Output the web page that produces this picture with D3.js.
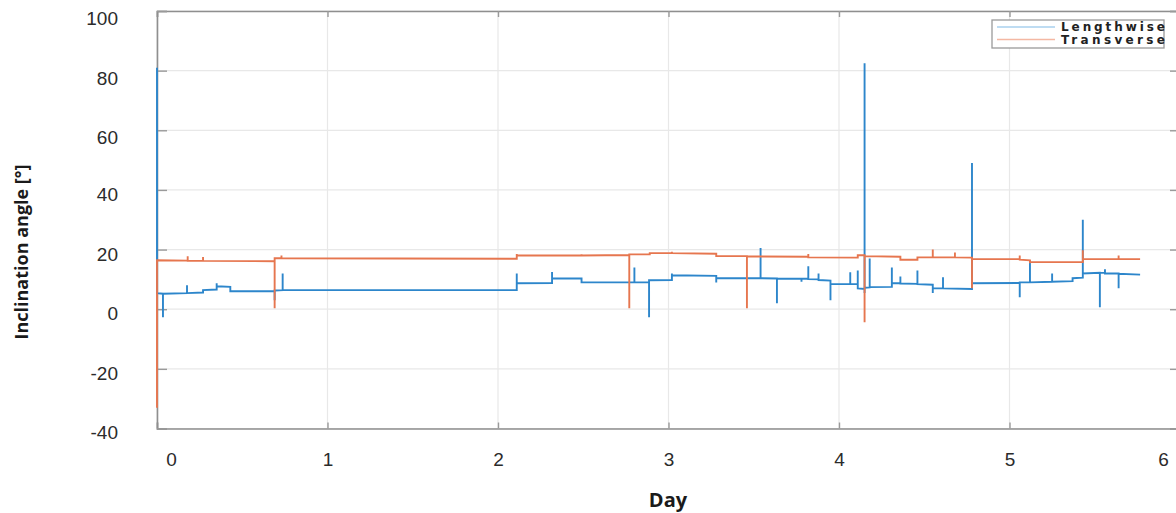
<!DOCTYPE html>
<html>
<head>
<meta charset="utf-8">
<script src="https://cdn.jsdelivr.net/npm/d3@7"></script>
<style>
  body { margin: 0; background: #fff; }
  svg { font-family: "Open Sans", sans-serif; }
</style>
</head>
<body>
<div id="container"></div>
<script>
let w = 1176;
let h = 513;

// tick values
let dayTicks = [0, 1, 2, 3, 4, 5, 6];
let angleTicks = [-40, -20, 0, 20, 40, 60, 80, 100];
let seriesNames = ["Lengthwise", "Transverse"];

// [day, angle], spikes are repeated days
let lengthwise = [
  [0, 81], [0, 5.4], [0.035, 5.2], [0.035, -2.7], [0.035, 5.2],
  [0.176, 5.4], [0.176, 8], [0.176, 5.4], [0.27, 5.6], [0.27, 6.4],
  [0.35, 6.6], [0.35, 8.7], [0.35, 7.7], [0.43, 7.5], [0.43, 6.0],
  [0.69, 6.0], [0.69, 3], [0.69, 6.3], [0.737, 6.4], [0.737, 12], [0.737, 6.5],
  [2.11, 6.4], [2.11, 12], [2.11, 8.7], [2.317, 8.8], [2.317, 12.5], [2.317, 10.4],
  [2.49, 10.3], [2.49, 9], [2.80, 9], [2.80, 14], [2.80, 9], [2.886, 9],
  [2.886, -2.7], [2.886, 9.7], [3.02, 9.8], [3.02, 12], [3.02, 11.4],
  [3.28, 11.2], [3.28, 9], [3.28, 10.4], [3.54, 10.4], [3.54, 20.5], [3.54, 10.4],
  [3.636, 10.3], [3.636, 2], [3.636, 10.3], [3.78, 10.2], [3.78, 9.2], [3.78, 10.2],
  [3.82, 10.2], [3.82, 14.4], [3.82, 10.1], [3.88, 10], [3.88, 12], [3.88, 9.8],
  [3.95, 9.6], [3.95, 3], [3.95, 8.4], [4.066, 8.4], [4.066, 12.4], [4.066, 8.4],
  [4.11, 8.4], [4.11, 13], [4.11, 7], [4.15, 6.8], [4.15, 82.5], [4.15, 5.4],
  [4.15, 7.2], [4.18, 7.3], [4.18, 17], [4.18, 7.4], [4.31, 7.5], [4.31, 14],
  [4.31, 8.7], [4.36, 8.7], [4.36, 11], [4.36, 8.6], [4.46, 8.5], [4.46, 13],
  [4.46, 8.4], [4.55, 8.2], [4.55, 5.4], [4.55, 7], [4.61, 7], [4.61, 10.7],
  [4.61, 7], [4.78, 6.8], [4.78, 49], [4.78, 8.7], [5.06, 8.8], [5.06, 4],
  [5.06, 9], [5.12, 9], [5.12, 16.4], [5.12, 9], [5.25, 9.2], [5.25, 12],
  [5.25, 9.2], [5.37, 9.4], [5.37, 10.4], [5.43, 10.6], [5.43, 30], [5.43, 12],
  [5.53, 12.2], [5.53, 0.7], [5.53, 12.2], [5.56, 12.2], [5.56, 13.4], [5.56, 12],
  [5.64, 12], [5.64, 7], [5.64, 11.9], [5.766, 11.6]
];

let transverse = [
  [0, -33], [0, 16.4], [0.18, 16.3], [0.18, 17.8], [0.18, 16.2],
  [0.27, 16.3], [0.27, 17.5], [0.27, 16.2], [0.69, 16.1], [0.69, 0.3],
  [0.69, 17.1], [0.73, 17.1], [0.73, 18], [0.73, 17.1], [2.11, 16.9],
  [2.11, 18.5], [2.11, 18.1], [2.49, 18], [2.49, 18.4], [2.49, 18],
  [2.77, 18.2], [2.77, 0.3], [2.77, 18.4], [2.89, 18.4], [2.89, 18.8],
  [3.02, 18.8], [3.02, 19.3], [3.02, 18.8], [3.28, 18.6], [3.28, 17.8],
  [3.46, 17.8], [3.46, 0.3], [3.46, 17.7], [3.82, 17.6], [3.82, 18.5],
  [3.82, 17.4], [4.11, 17.3], [4.11, 18.1], [4.15, 18.1], [4.15, -4.4],
  [4.15, 17.8], [4.36, 17.6], [4.36, 16.6], [4.46, 16.6], [4.46, 17.4],
  [4.55, 17.4], [4.55, 20], [4.55, 17.4], [4.68, 17.4], [4.68, 19],
  [4.68, 17.4], [4.78, 17.3], [4.78, 7], [4.78, 16.8], [5.06, 16.8],
  [5.06, 18], [5.06, 16.6], [5.12, 16.4], [5.12, 15.4], [5.12, 15.8],
  [5.43, 15.8], [5.43, 19.8], [5.43, 16.8], [5.64, 16.8], [5.64, 18],
  [5.64, 16.8], [5.766, 16.8]
];

let colors = ["#2d86cb", "#e6764f"];
let legendColors = ["#a9d1ee", "#f4b8a3"];

let viz = d3.select("#container").append("svg")
    .attr("width", w)
    .attr("height", h)
    .style("display", "block")
;

let plotLeft = 157, plotRight = 1180, plotTop = 11, plotBottom = 428.5;

let xScale = d3.scaleLinear().domain([0, 6]).range([plotLeft, plotRight]);
let yScale = d3.scaleLinear().domain([-40, 100]).range([plotBottom, plotTop]);

// grid
let grid = viz.append("g").attr("class", "grid");
grid.selectAll(".vgrid").data(dayTicks).enter().append("line")
    .attr("x1", d => xScale(d)).attr("x2", d => xScale(d))
    .attr("y1", plotTop).attr("y2", plotBottom)
    .attr("stroke", "#e8e8e8").attr("stroke-width", 1.2);
grid.selectAll(".hgrid").data(angleTicks).enter().append("line")
    .attr("x1", plotLeft).attr("x2", plotRight)
    .attr("y1", d => yScale(d)).attr("y2", d => yScale(d))
    .attr("stroke", "#e8e8e8").attr("stroke-width", 1.2);

// plain integer labels with a normal hyphen minus
let plainFormat = d => String(d);

// axes
let xAxis = d3.axisBottom(xScale).tickValues(dayTicks).tickSize(-6).tickPadding(24)
    .tickFormat(plainFormat);
let xAxisGroup = viz.append("g")
    .attr("class", "xaxisgroup")
    .attr("transform", "translate(0," + plotBottom + ")")
    .call(xAxis);
let xTop = viz.append("g")
    .attr("transform", "translate(0," + plotTop + ")")
    .call(d3.axisTop(xScale).tickValues(dayTicks).tickSize(-6).tickFormat(""));

let yAxis = d3.axisLeft(yScale).tickValues(angleTicks).tickSize(-10).tickPadding(39)
    .tickFormat(plainFormat);
let yAxisGroup = viz.append("g")
    .attr("class", "yaxisgroup")
    .attr("transform", "translate(" + plotLeft + ",0)")
    .call(yAxis);
let yRight = viz.append("g")
    .attr("transform", "translate(" + plotRight + ",0)")
    .call(d3.axisRight(yScale).tickValues(angleTicks).tickSize(-10).tickFormat(""));

[xAxisGroup, xTop, yAxisGroup, yRight].forEach(g => {
  g.select(".domain").attr("stroke", "#8f8f8f").attr("stroke-width", 1.6);
  g.selectAll(".tick line").attr("stroke", "#9a9a9a").attr("stroke-width", 1.4);
});

xAxisGroup.selectAll("text")
    .attr("font-size", 19).attr("fill", "#2b2b2b");
xAxisGroup.selectAll("text").filter(d => d == 0).attr("dx", 14);
xAxisGroup.selectAll("text").filter(d => d == 6).attr("dx", -17);

yAxisGroup.selectAll("text")
    .attr("font-size", 19).attr("fill", "#2b2b2b")
    .attr("dy", "0.55em");
yAxisGroup.selectAll("text").filter(d => d >= 60).attr("dy", "0.72em");

// lines
let line = d3.line()
    .x(d => xScale(d[0]))
    .y(d => yScale(d[1]));

let lineGroup = viz.append("g").attr("class", "lines");
lineGroup.selectAll("path").data([lengthwise, transverse]).enter().append("path")
    .attr("d", d => line(d))
    .attr("fill", "none")
    .attr("stroke", (d, i) => colors[i])
    .attr("stroke-width", 1.9)
    .attr("stroke-linejoin", "miter")
;

// labels
viz.append("text")
    .text("Day")
    .attr("x", 668).attr("y", 507)
    .attr("text-anchor", "middle")
    .attr("font-size", 20).attr("font-weight", "bold").attr("fill", "#1a1a1a");

viz.append("text")
    .text("Inclination angle [°]")
    .attr("transform", "translate(28,252) rotate(-90)")
    .attr("text-anchor", "middle")
    .attr("font-size", 18).attr("font-weight", "bold").attr("fill", "#1a1a1a");

// legend
let legend = viz.append("g").attr("class", "legend");
legend.append("rect")
    .attr("x", 992).attr("y", 20).attr("width", 172).attr("height", 28)
    .attr("fill", "#fff").attr("stroke", "#9a9a9a").attr("stroke-width", 1.3);
let items = legend.selectAll(".item").data(seriesNames).enter().append("g")
    .attr("transform", (d, i) => "translate(0," + (27 + i * 12.5) + ")");
items.append("line")
    .attr("x1", 997).attr("x2", 1055)
    .attr("stroke", (d, i) => legendColors[i]).attr("stroke-width", 1.5);
items.append("text")
    .text(d => d)
    .attr("x", 1061).attr("y", 4)
    .attr("textLength", 104).attr("lengthAdjust", "spacing")
    .attr("font-family", "DejaVu Sans").attr("font-size", 12)
    .attr("font-weight", "bold").attr("fill", "#222");
</script>
</body>
</html>
